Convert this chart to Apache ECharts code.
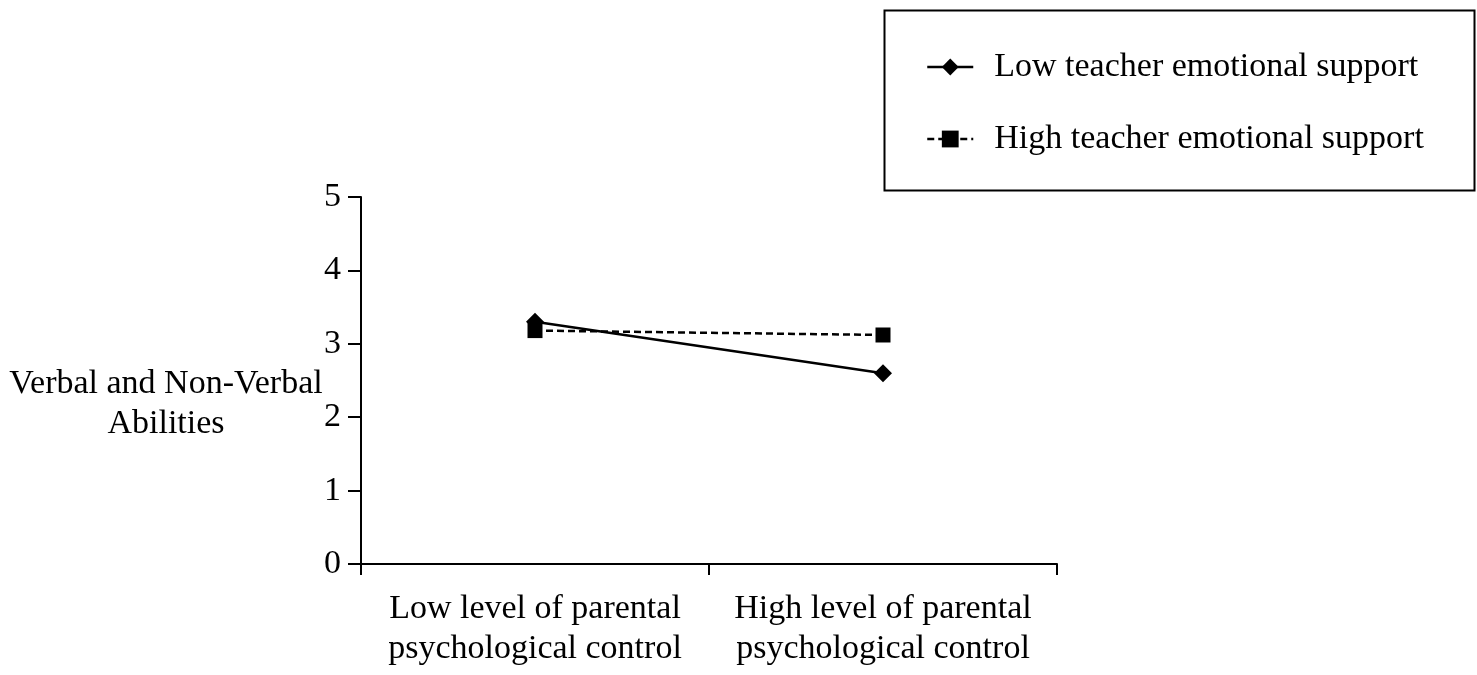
<!DOCTYPE html>
<html>
<head>
<meta charset="utf-8">
<script src="https://cdn.jsdelivr.net/npm/echarts@6/dist/echarts.min.js"></script>
<style>
  html, body { margin: 0; padding: 0; background: #fff; }
  #chart { width: 1477px; height: 675px; }
</style>
</head>
<body>
<div id="chart"></div>
<script>
// data
const categories = ['Low level of parental\npsychological control', 'High level of parental\npsychological control'];
const lowSupport = [3.3, 2.6];
const highSupport = [3.18, 3.12];
const yTicks = [0, 1, 2, 3, 4, 5];
const yTitle = 'Verbal and Non-Verbal\nAbilities';

const font = 'Liberation Serif';
const chart = echarts.init(document.getElementById('chart'));

chart.setOption({
    animation: false,
    backgroundColor: '#fff',
    textStyle: { fontFamily: font, color: '#000' },
    grid: { left: 361, right: 420, top: 197, bottom: 111 },
    legend: {
        orient: 'vertical',
        left: 921,
        top: 45,
        itemWidth: 46,
        itemHeight: 21,
        itemGap: 38,
        lineStyle: { width: 2.5 },
        textStyle: { fontFamily: font, fontSize: 34, color: '#000', padding: [0, 0, 0, 16] },
        data: ['Low teacher emotional support', 'High teacher emotional support']
    },
    graphic: [{
        type: 'rect',
        left: 882, top: 8,
        shape: { width: 590, height: 180 },
        style: { fill: 'none', stroke: '#000', lineWidth: 2 }
    }, {
        // y axis title, horizontal and off to the left
        type: 'text',
        x: 166, y: 404,
        style: {
            text: yTitle,
            font: '34px "Liberation Serif"',
            fill: '#000',
            align: 'center',
            verticalAlign: 'middle',
            lineHeight: 40
        }
    }],
    xAxis: {
        type: 'category',
        data: categories,
        boundaryGap: true,
        axisLine: { lineStyle: { color: '#000', width: 2 } },
        axisTick: { show: true, interval: 0, length: 11, lineStyle: { color: '#000', width: 2 } },
        axisLabel: { interval: 0, fontFamily: font, fontSize: 34, color: '#000', lineHeight: 40, margin: 25 }
    },
    yAxis: {
        type: 'value',
        min: yTicks[0],
        max: yTicks[yTicks.length - 1],
        interval: 1,
        splitLine: { show: false },
        axisLine: { show: true, lineStyle: { color: '#000', width: 2 } },
        axisTick: { show: true, length: 13, lineStyle: { color: '#000', width: 2 } },
        axisLabel: { fontFamily: font, fontSize: 34, color: '#000', margin: 20 }
    },
    series: [{
        name: 'Low teacher emotional support',
        type: 'line',
        data: lowSupport,
        symbol: 'diamond',
        symbolSize: 18,
        itemStyle: { color: '#000' },
        lineStyle: { color: '#000', width: 2.5, type: 'solid' },
        z: 3
    }, {
        name: 'High teacher emotional support',
        type: 'line',
        data: highSupport,
        symbol: 'rect',
        symbolSize: 15,
        itemStyle: { color: '#000' },
        lineStyle: { color: '#000', width: 2.5, type: [7, 4] },
        z: 2
    }]
});
</script>
</body>
</html>
